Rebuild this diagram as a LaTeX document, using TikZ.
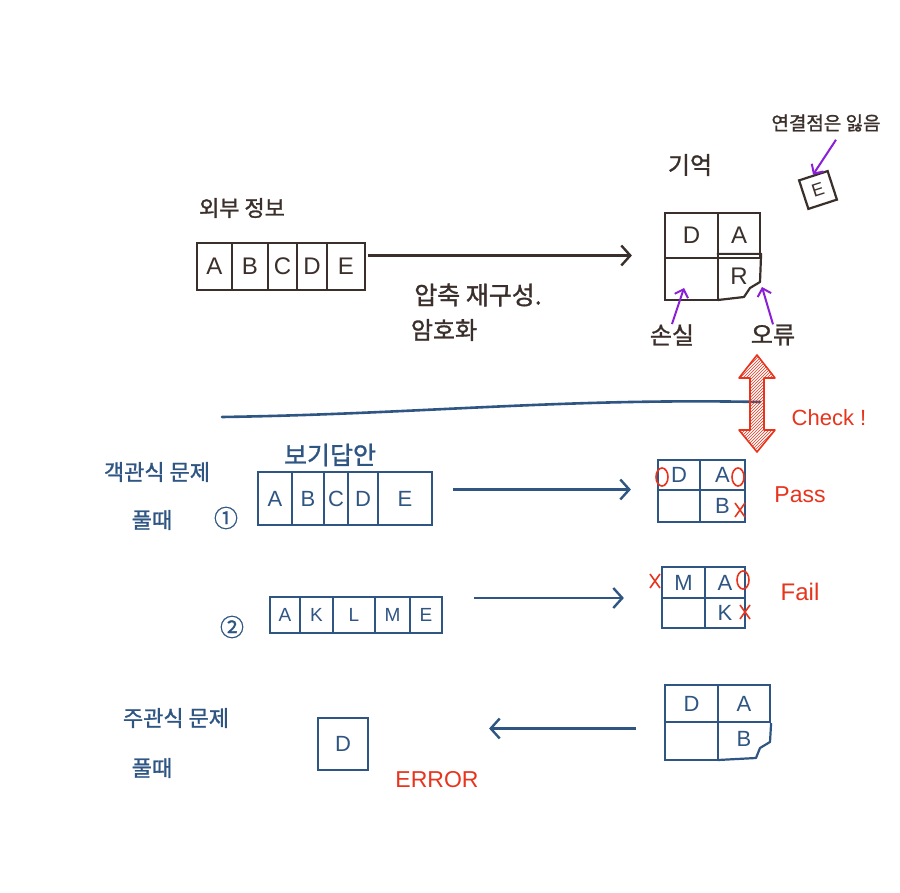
\documentclass[tikz,border=0pt]{standalone}
\usepackage{fontspec}
\setmainfont{Liberation Sans}
\newfontfamily\kr{Noto Sans CJK KR}[FakeBold=1.2]
\usetikzlibrary{arrows.meta,patterns}
\definecolor{brn}{HTML}{3A2F2B}
\definecolor{blu}{HTML}{2F5583}
\definecolor{rd}{HTML}{E8341C}
\definecolor{pur}{HTML}{8B1FD6}
\tikzset{
  cellR/.style={draw=brn,line width=2.2,inner sep=0,font=\fontsize{24}{24}\selectfont,text=brn},
  cellB/.style={draw=blu,line width=2.2,inner sep=0,font=\fontsize{22}{22}\selectfont,text=blu},
  cellS/.style={draw=blu,line width=2.2,inner sep=0,font=\fontsize{19}{19}\selectfont,text=blu},
  lab/.style={inner sep=0,font=\kr\fontsize{24}{24}\selectfont},
  labS/.style={inner sep=0,font=\kr\fontsize{22}{22}\selectfont},
  redtxt/.style={inner sep=0,text=rd,font=\fontsize{23}{23}\selectfont},
  conn/.style={line width=2.4,-{Straight Barb[length=9,width=20,line width=2.4]}},
  parr/.style={pur,line width=2,-{Straight Barb[length=7,width=14,line width=2]}},
  redmark/.style={draw=rd,line width=1.6},
}
\begin{document}
\begin{tikzpicture}[x=1pt,y=-1pt]
\useasboundingbox (0,0) rectangle (900,893);
\fill[white] (0,0) rectangle (900,893);

% ---- top: external info ----
\node[lab,text=brn,font=\kr\fontsize{22}{22}\selectfont] (ext) at (242,208) {외부 정보};
\node[cellR,minimum width=35,minimum height=47] (r1a) at (214.5,266.5) {A};
\node[cellR,minimum width=36,minimum height=47] (r1b) at (250,266.5) {B};
\node[cellR,minimum width=29,minimum height=47] (r1c) at (282.5,266.5) {C};
\node[cellR,minimum width=30,minimum height=47] (r1d) at (312,266.5) {D};
\node[cellR,minimum width=38,minimum height=47] (r1e) at (346,266.5) {E};

% memory grid
\node[lab,text=brn] (mem) at (690,165) {기억};
\node[cellR,minimum width=53,minimum height=45] (m11) at (691.5,235.5) {D};
\node[cellR,minimum width=42,minimum height=45] (m12) at (739,235.5) {A};
\node[cellR,minimum width=53,minimum height=42] (m21) at (691.5,279) {};
\node[cellR,draw=none,minimum width=42,minimum height=42] (m22) at (739,276) {R};
\draw[brn,line width=2.2,line join=round] (m22.north west) -- (m22.north east) -- (760,282) -- (750,288) -- (744,297) -- (718,300);

\draw[conn,brn,shorten <=2,shorten >=32] ([yshift=11pt]r1e.east) -- ([yshift=11pt]r1e.east -| m11.west);
\node[lab,text=brn,font=\kr\fontsize{25}{25}\selectfont] (comp) at (478,295) {압축 재구성.};
\node[lab,text=brn] (enc) at (444,330) {암호화};

\node[lab,text=brn] (loss) at (672,335) {손실};
\node[lab,text=brn] (err) at (773,335) {오류};
\coordinate (lossp) at (684,288);
\coordinate (errp) at (762,287);
\draw[parr] (loss.north) -- (lossp);
\draw[parr] (err.north) -- (errp);

\node[labS,text=brn,font=\kr\fontsize{19}{19}\selectfont] (lost) at (826,123) {연결점은 잃음};
\node[cellR,rotate=18,minimum size=30,font=\fontsize{18}{18}\selectfont] (ecard) at (818,190) {E};
\draw[parr] (lost.south) ++(10,8) -- (ecard.north);

% ---- divider line & check arrow ----
\coordinate (lineL) at (222,417);
\coordinate (lineR) at (760,402);
\draw[blu,line width=2.6,line cap=round] (lineL) .. controls (420,414) and (560,398) .. (lineR);
\draw[rd,line width=1.6,line join=round,pattern=north east lines,pattern color=rd]
  (757,355) -- (775,378) -- (764,378) -- (764,430) -- (775,430) -- (757,452)
  -- (739,430) -- (750,430) -- (750,378) -- (739,378) -- cycle;
\node[redtxt,font=\fontsize{22}{22}\selectfont] (check) at (829,418) {Check !};

% ---- multiple choice ----
\node[lab,text=blu,font=\kr\fontsize{25}{25}\selectfont] (bogi) at (330,455) {보기답안};
\node[labS,text=blu] (mc1) at (157,472) {객관식 문제};
\node[labS,text=blu] (mc2) at (152,520) {풀때};
\node[lab,text=blu] (one) at (226,518) {①};
\node[cellB,minimum width=34,minimum height=53] (p1a) at (275,498.5) {A};
\node[cellB,minimum width=32,minimum height=53] (p1b) at (308,498.5) {B};
\node[cellB,minimum width=24,minimum height=53] (p1c) at (336,498.5) {C};
\node[cellB,minimum width=30,minimum height=53] (p1d) at (363,498.5) {D};
\node[cellB,minimum width=54,minimum height=53] (p1e) at (405,498.5) {E};

\node[cellB,minimum width=42,minimum height=30] (g1a) at (679,475) {D};
\node[cellB,minimum width=45,minimum height=30] (g1b) at (722.5,475) {A};
\node[cellB,minimum width=42,minimum height=32] (g1c) at (679,506) {};
\node[cellB,minimum width=45,minimum height=32] (g1d) at (722.5,506) {B};
\draw[conn,blu,shorten <=20,shorten >=26] ([yshift=9pt]p1e.east) -- ([yshift=9pt]p1e.east -| g1a.west);
\draw[redmark] (662,477) ellipse (6 and 9);
\draw[redmark] (738,477) ellipse (6 and 9);
\draw[redmark] (735,503) -- (745,517) (745,503) -- (735,517);
\node[redtxt] (pass) at (800,495) {Pass};

\node[lab,text=blu] (two) at (232,627) {②};
\node[cellS,minimum width=30,minimum height=36] (p2a) at (285,615) {A};
\node[cellS,minimum width=33,minimum height=36] (p2b) at (316.5,615) {K};
\node[cellS,minimum width=42,minimum height=36] (p2c) at (354,615) {L};
\node[cellS,minimum width=35,minimum height=36] (p2d) at (392.5,615) {M};
\node[cellS,minimum width=32,minimum height=36] (p2e) at (426,615) {E};

\node[cellB,minimum width=43,minimum height=31] (g2a) at (683.5,582.5) {M};
\node[cellB,minimum width=40,minimum height=31] (g2b) at (725,582.5) {A};
\node[cellB,minimum width=43,minimum height=30] (g2c) at (683.5,613) {};
\node[cellB,minimum width=40,minimum height=30] (g2d) at (725,613) {K};
\draw[conn,blu,shorten <=31,shorten >=37] ([yshift=17pt]p2e.east) -- ([yshift=17pt]p2e.east -| g2a.west);
\draw[redmark] (650,574) -- (660,588) (660,574) -- (650,588);
\draw[redmark] (743,580) ellipse (6 and 9);
\draw[redmark] (740,605) -- (750,619) (750,605) -- (740,619);
\node[redtxt,font=\fontsize{24}{24}\selectfont] (fail) at (800,592) {Fail};

% ---- subjective ----
\node[labS,text=blu] (sj1) at (176,718) {주관식 문제};
\node[labS,text=blu] (sj2) at (152,768) {풀때};
\node[cellB,minimum width=50,minimum height=52] (dbox) at (343,744) {D};
\node[redtxt] (error) at (437,780) {ERROR};

\node[cellB,minimum width=53,minimum height=37] (g3a) at (691.5,703.5) {D};
\node[cellB,minimum width=52,minimum height=37] (g3b) at (744,703.5) {A};
\node[cellB,minimum width=53,minimum height=38] (g3c) at (691.5,741) {};
\node[cellB,draw=none,minimum width=52,minimum height=38] (g3d) at (744,739) {B};
\draw[blu,line width=2.2,line join=round] (g3b.south east) -- (770,742) -- (760,748) -- (756,758) -- (718,760);
\draw[conn,blu,shorten <=28,shorten >=120] ([yshift=-25pt]g3a.west) -- ([yshift=-25pt]g3a.west -| dbox.east);
\end{tikzpicture}
\end{document}
